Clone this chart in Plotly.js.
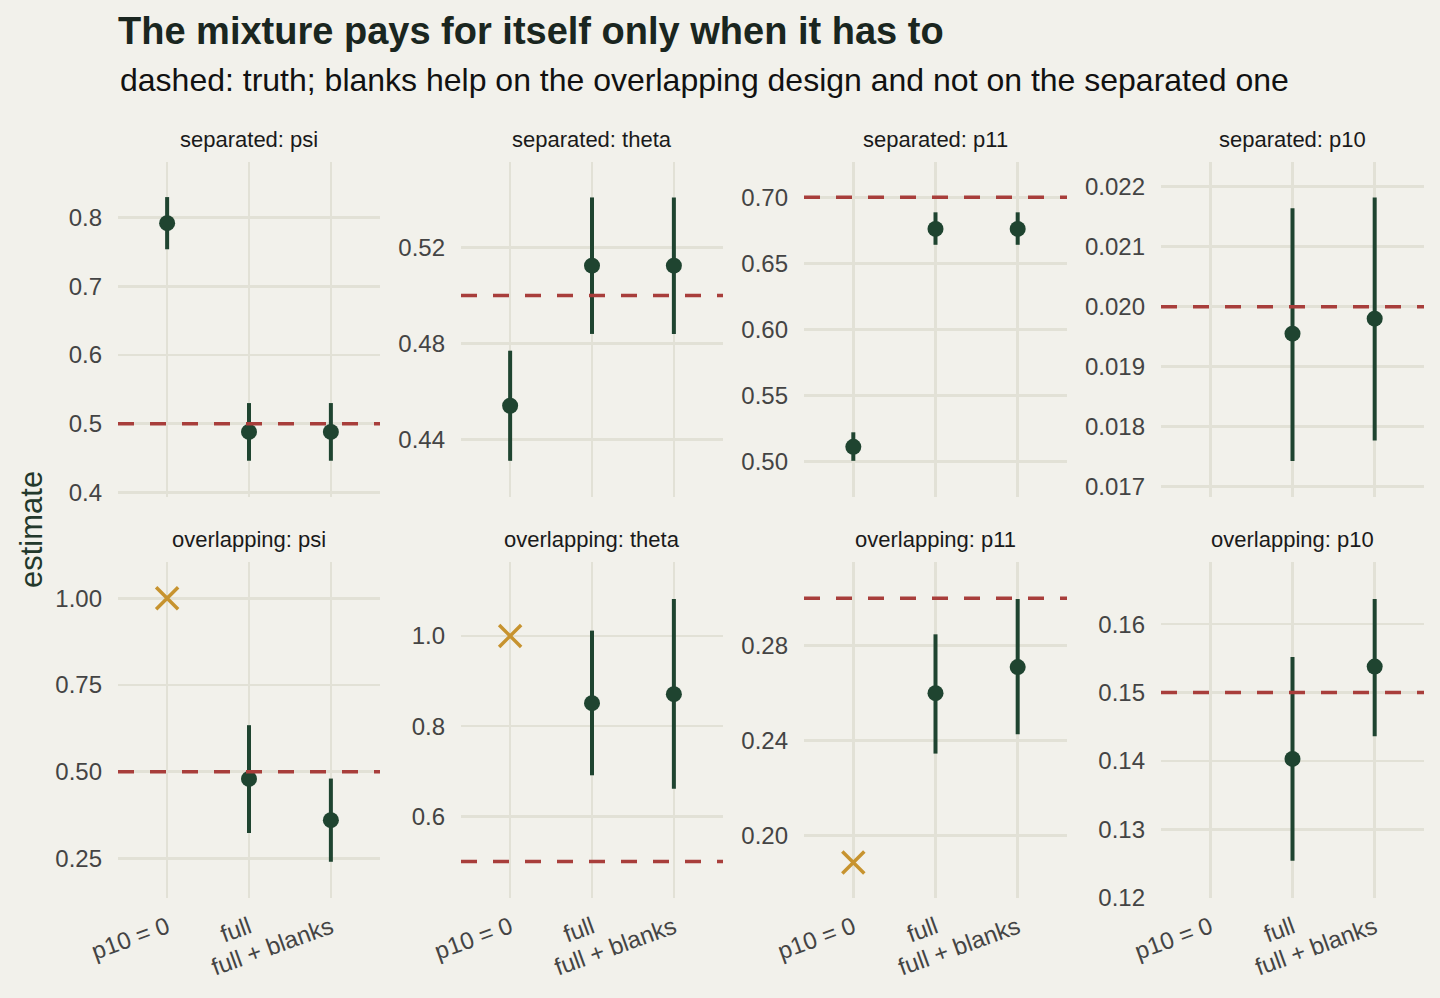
<!DOCTYPE html>
<html>
<head>
<meta charset="utf-8">
<script src="https://cdn.plot.ly/plotly-3.0.1.min.js"></script>
<style>
html,body{margin:0;padding:0;background:#F2F1EB;}
#chart{width:1440px;height:998px;}
</style>
</head>
<body>
<div id="chart"></div>
<script>
// ---- data ----
const methods = ["p10 = 0", "full", "full + blanks"];
const panelTitles = [
  "separated: psi", "separated: theta", "separated: p11", "separated: p10",
  "overlapping: psi", "overlapping: theta", "overlapping: p11", "overlapping: p10"
];
const truth = [0.5, 0.5, 0.70, 0.020, 0.5, 0.5, 0.30, 0.15];

// p10 = 0 fit (boundary fits flagged, drawn as crosses)
const estP10zero = [0.792, 0.454, 0.511, null, 1.00, 1.00, 0.1886, null];
const loP10zero  = [0.754, 0.431, 0.5004, null, null, null, null, null];
const hiP10zero  = [0.830, 0.477, 0.522, null, null, null, null, null];
const boundaryP10zero = [false, false, false, false, true, true, true, false];

// full model
const estFull = [0.488, 0.5125, 0.676, 0.01955, 0.479, 0.851, 0.260, 0.1403];
const loFull  = [0.446, 0.484, 0.664, 0.01743, 0.323, 0.691, 0.2345, 0.1254];
const hiFull  = [0.530, 0.541, 0.6886, 0.02164, 0.634, 1.012, 0.2848, 0.1552];

// full model + blanks
const estBlanks = [0.488, 0.5125, 0.676, 0.01980, 0.360, 0.871, 0.271, 0.1538];
const loBlanks  = [0.446, 0.484, 0.664, 0.01777, 0.240, 0.661, 0.2427, 0.1436];
const hiBlanks  = [0.530, 0.541, 0.6886, 0.02182, 0.480, 1.082, 0.2997, 0.1637];

// ---- axis config ----
const yRanges = [
  [0.3932, 0.8811], [0.4159, 0.5558], [0.473, 0.7267], [0.016828, 0.022412],
  [0.1355, 1.1047], [0.4188, 1.1642], [0.1736, 0.3153], [0.11995, 0.1691]
];
const yDticks = [0.1, 0.04, 0.05, 0.001, 0.25, 0.2, 0.04, 0.01];
const yFormats = [".1f", ".2f", ".2f", ".3f", ".2f", ".1f", ".2f", ".2f"];

const W = 1440, H = 998;
const colPx = [[118, 380], [461, 723], [804, 1067], [1161, 1424]];
const rowPx = [[162, 497], [562, 898]];

const FONT = "Liberation Sans, Arial, Helvetica, sans-serif";
const BG = "#F2F1EB";
const GRID = "#E2E1D6";
const DOT = "#1F4430";
const CROSS = "#C7932F";
const TRUTH = "#A83E3B";

const traces = [];
const shapes = [];
const annotations = [];
const layout = {
  width: W, height: H,
  paper_bgcolor: BG, plot_bgcolor: BG,
  margin: {l: 0, r: 0, t: 0, b: 0},
  showlegend: false,
  font: {family: FONT, color: "#444"},
  title: {
    text: "<b>The mixture pays for itself only when it has to</b>",
    font: {family: FONT, size: 38, color: "#1A2620"},
    x: 118 / W, xanchor: "left", xref: "paper",
    y: 1 - 31 / H, yanchor: "middle", yref: "container"
  }
};

const series = [
  {est: estP10zero, lo: loP10zero, hi: hiP10zero, flag: boundaryP10zero},
  {est: estFull, lo: loFull, hi: hiFull, flag: null},
  {est: estBlanks, lo: loBlanks, hi: hiBlanks, flag: null}
];

for (let i = 0; i < 8; i++) {
  const row = Math.floor(i / 4), col = i % 4;
  const sfx = i === 0 ? "" : String(i + 1);
  const xa = "x" + sfx, ya = "y" + sfx;

  layout["xaxis" + sfx] = {
    domain: [colPx[col][0] / W, colPx[col][1] / W],
    anchor: ya,
    type: "category",
    categoryorder: "array", categoryarray: methods,
    range: [-0.6, 2.6],
    showgrid: true, gridcolor: GRID, gridwidth: 2.5,
    zeroline: false, showline: false, ticks: "",
    showticklabels: row === 1,
    tickangle: -20,
    tickfont: {family: FONT, size: 24, color: "#444"},
    ticklabelstandoff: 10,
    automargin: false, fixedrange: true
  };
  layout["yaxis" + sfx] = {
    domain: [1 - rowPx[row][1] / H, 1 - rowPx[row][0] / H],
    anchor: xa,
    range: yRanges[i],
    tick0: 0, dtick: yDticks[i], tickformat: yFormats[i],
    showgrid: true, gridcolor: GRID, gridwidth: 2.5,
    zeroline: false, showline: false, ticks: "",
    tickfont: {family: FONT, size: 24, color: "#444"},
    ticklabelstandoff: 15,
    automargin: false, fixedrange: true
  };

  // truth line (drawn first so the estimates sit on top)
  shapes.push({
    type: "line", layer: "above",
    xref: xa + " domain", x0: 0, x1: 1,
    yref: ya, y0: truth[i], y1: truth[i],
    line: {color: TRUTH, width: 3.5, dash: "16px,16px"}
  });

  // estimates with intervals
  const xs = [], ys = [], up = [], dn = [];
  const cx = [], cy = [];
  series.forEach((s, j) => {
    const v = s.est[i];
    if (v === null) return;
    if (s.flag && s.flag[i]) { cx.push(methods[j]); cy.push(v); return; }
    xs.push(methods[j]); ys.push(v);
    up.push(s.hi[i] - v); dn.push(v - s.lo[i]);
  });
  traces.push({
    type: "scatter", mode: "markers", xaxis: xa, yaxis: ya,
    x: xs, y: ys,
    marker: {size: 16, color: DOT},
    error_y: {type: "data", symmetric: false, array: up, arrayminus: dn,
              color: DOT, thickness: 4, width: 0},
    hoverinfo: "x+y"
  });
  if (cx.length) {
    traces.push({
      type: "scatter", mode: "markers", xaxis: xa, yaxis: ya,
      x: cx, y: cy,
      marker: {symbol: "x-thin", size: 22, color: CROSS, line: {color: CROSS, width: 3.5}},
      hoverinfo: "x+y"
    });
  }

  // strip title
  annotations.push({
    text: panelTitles[i],
    xref: xa + " domain", x: 0.5, xanchor: "center",
    yref: ya + " domain", y: 1, yanchor: "middle", yshift: 23,
    showarrow: false,
    font: {family: FONT, size: 22, color: "#1A1A1A"}
  });
}

// subtitle
annotations.push({
  text: "dashed: truth; blanks help on the overlapping design and not on the separated one",
  xref: "paper", x: 118 / W, xanchor: "left",
  yref: "paper", y: 1 - 80 / H, yanchor: "middle",
  showarrow: false,
  font: {family: FONT, size: 32, color: "#111"}
});
// shared y title
annotations.push({
  text: "estimate",
  xref: "paper", x: 31 / W, xanchor: "center",
  yref: "paper", y: 1 - 530 / H, yanchor: "middle",
  textangle: -90, showarrow: false,
  font: {family: FONT, size: 31, color: "#23382B"}
});

layout.shapes = shapes;
layout.annotations = annotations;

Plotly.newPlot("chart", traces, layout, {displayModeBar: false, staticPlot: true});
</script>
</body>
</html>
